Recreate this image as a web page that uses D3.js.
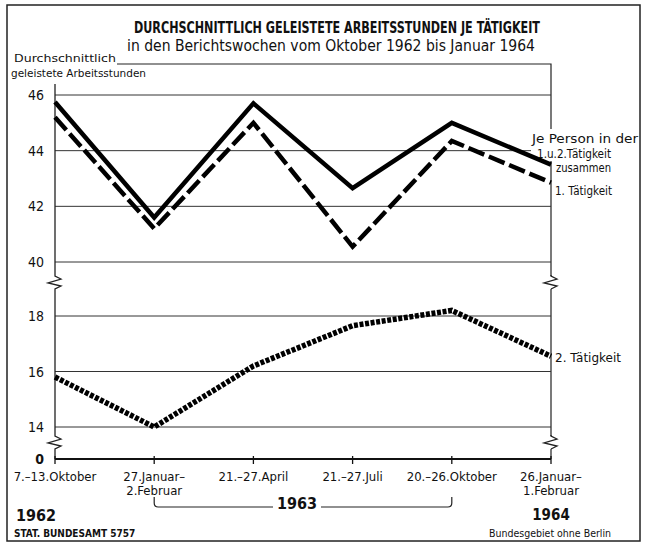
<!DOCTYPE html>
<html>
<head>
<meta charset="utf-8">
<script src="https://cdn.jsdelivr.net/npm/d3@7"></script>
<style>
  body { margin: 0; background: #fff; }
  text { font-family: "DejaVu Sans Condensed", "DejaVu Sans", sans-serif; font-stretch: condensed; fill: #111; }
</style>
</head>
<body>
<div id="chart"></div>
<script>
// data
var periods = ["7.–13.Oktober", "27.Januar–2.Februar", "21.–27.April", "21.–27.Juli", "20.–26.Oktober", "26.Januar–1.Februar"];
var periodLines = [["7.–13.Oktober"], ["27.Januar–", "2.Februar"], ["21.–27.April"], ["21.–27.Juli"], ["20.–26.Oktober"], ["26.Januar–", "1.Februar"]];
var zusammen = [45.75, 41.6, 45.7, 42.65, 45.0, 43.5];     // je Person in der 1.u.2. Tätigkeit
var ersteTaetigkeit = [45.2, 41.2, 45.0, 40.55, 44.35, 42.85];
var zweiteTaetigkeit = [15.8, 14.0, 16.2, 17.65, 18.2, 16.55];
var upperTicks = [46, 44, 42, 40];
var lowerTicks = [18, 16, 14];

let width = 647;
let height = 546;

var svg = d3.select("#chart")
    .append("svg")
    .attr("width", width)
    .attr("height", height);

//scales
var x = d3.scalePoint().domain(periods).range([55, 551]);
var yUp = d3.scaleLinear().domain([40, 46]).range([262, 95]);
var yLow = d3.scaleLinear().domain([14, 18]).range([427, 316]);
var zeroY = 459;

//outer border
svg.append("rect")
    .attr("x", 7).attr("y", 5)
    .attr("width", 633).attr("height", 536)
    .attr("fill", "none")
    .attr("stroke", "#222")
    .attr("stroke-width", 1.5);

//title
svg.append("text")
    .attr("x", 337).attr("y", 33)
    .attr("text-anchor", "middle")
    .attr("font-size", 15).attr("font-weight", "bold")
    .attr("textLength", 406).attr("lengthAdjust", "spacingAndGlyphs")
    .text("DURCHSCHNITTLICH GELEISTETE ARBEITSSTUNDEN JE TÄTIGKEIT");

svg.append("text")
    .attr("x", 331).attr("y", 51)
    .attr("text-anchor", "middle")
    .attr("font-size", 15)
    .attr("textLength", 408).attr("lengthAdjust", "spacingAndGlyphs")
    .text("in den Berichtswochen vom Oktober 1962 bis Januar 1964");

//y axis title
svg.append("text")
    .attr("x", 14).attr("y", 62)
    .attr("font-size", 11)
    .attr("textLength", 102).attr("lengthAdjust", "spacingAndGlyphs")
    .text("Durchschnittlich");
svg.append("text")
    .attr("x", 11).attr("y", 77)
    .attr("font-size", 11)
    .attr("textLength", 135).attr("lengthAdjust", "spacingAndGlyphs")
    .text("geleistete Arbeitsstunden");

//frame: top line + right side
svg.append("path")
    .attr("d", "M117,64 H551 V" + zeroY)
    .attr("fill", "none")
    .attr("stroke", "#222")
    .attr("stroke-width", 1.2);

//grid lines
var grid = svg.append("g").attr("stroke", "#333").attr("stroke-width", 1);
upperTicks.forEach(t => {
    grid.append("line").attr("x1", 55).attr("x2", 551).attr("y1", yUp(t)).attr("y2", yUp(t));
});
lowerTicks.forEach(t => {
    grid.append("line").attr("x1", 55).attr("x2", 551).attr("y1", yLow(t)).attr("y2", yLow(t));
});

//white patch behind the right-hand labels (covers frame, data lines are drawn later on top)
svg.append("rect").attr("x", 531).attr("y", 129).attr("width", 108).attr("height", 32).attr("fill", "#fff");

//tick labels
upperTicks.forEach(t => {
    svg.append("text").attr("x", 44).attr("y", yUp(t) + 5)
        .attr("text-anchor", "end").attr("font-size", 14).text(t);
});
lowerTicks.forEach(t => {
    svg.append("text").attr("x", 44).attr("y", yLow(t) + 5)
        .attr("text-anchor", "end").attr("font-size", 14).text(t);
});
svg.append("text").attr("x", 44).attr("y", zeroY + 5)
    .attr("text-anchor", "end").attr("font-size", 14).attr("font-weight", "bold").text("0");

//zigzag break on a vertical line
var zig = function(xc, yc) {
    return "L" + xc + "," + (yc - 6) +
        " L" + (xc + 6) + "," + (yc - 3) +
        " L" + (xc - 7) + "," + (yc + 1) +
        " L" + (xc + 6) + "," + (yc + 4) +
        " L" + xc + "," + (yc + 7);
};
svg.append("path")
    .attr("d", "M55,84 " + zig(55, 282) + " " + zig(55, 442) + " L55," + zeroY)
    .attr("fill", "none").attr("stroke", "#222").attr("stroke-width", 1.3);
//right side zigzags (drawn on white over the frame line)
[282, 442].forEach(yc => {
    svg.append("rect").attr("x", 549).attr("y", yc - 6).attr("width", 4).attr("height", 13).attr("fill", "#fff");
    svg.append("path")
        .attr("d", "M551," + (yc - 7) + " " + zig(551, yc))
        .attr("fill", "none").attr("stroke", "#222").attr("stroke-width", 1.3);
});

//zero baseline and ticks
svg.append("line")
    .attr("x1", 55).attr("x2", 551).attr("y1", zeroY).attr("y2", zeroY)
    .attr("stroke", "#111").attr("stroke-width", 2.2);
periods.forEach(p => {
    svg.append("line")
        .attr("x1", x(p)).attr("x2", x(p)).attr("y1", zeroY - 3).attr("y2", zeroY + 5)
        .attr("stroke", "#111").attr("stroke-width", 1.3);
});

//x labels
periods.forEach((p, i) => {
    var t = svg.append("text")
        .attr("x", x(p)).attr("y", 481)
        .attr("text-anchor", "middle")
        .attr("font-size", 13);
    periodLines[i].forEach((ln, j) => {
        t.append("tspan").attr("x", x(p)).attr("dy", j == 0 ? 0 : 14).text(ln);
    });
});

//years
svg.append("text").attr("x", 36).attr("y", 521).attr("text-anchor", "middle")
    .attr("font-size", 16).attr("font-weight", "bold").text("1962");
svg.append("text").attr("x", 551).attr("y", 520).attr("text-anchor", "middle")
    .attr("font-size", 15).attr("font-weight", "bold").text("1964");
svg.append("text").attr("x", 297).attr("y", 509).attr("text-anchor", "middle")
    .attr("font-size", 16).attr("font-weight", "bold").text("1963");
//bracket for 1963
var bx1 = x(periods[1]), bx2 = x(periods[4]);
svg.append("path")
    .attr("d", "M" + bx1 + ",497 V503 Q" + bx1 + ",507 " + (bx1 + 4) + ",507 H273 M321,507 H" + (bx2 - 4) + " Q" + bx2 + ",507 " + bx2 + ",503 V497")
    .attr("fill", "none").attr("stroke", "#222").attr("stroke-width", 1.2);

//footer
svg.append("text").attr("x", 14).attr("y", 537)
    .attr("font-size", 10).attr("font-weight", "bold")
    .text("STAT. BUNDESAMT 5757");
svg.append("text").attr("x", 550).attr("y", 537).attr("text-anchor", "middle")
    .attr("font-size", 10.5)
    .text("Bundesgebiet ohne Berlin");

//lines
var lineUp = d3.line().x((d, i) => x(periods[i])).y(d => yUp(d));
var lineLow = d3.line().x((d, i) => x(periods[i])).y(d => yLow(d));

svg.append("path").datum(ersteTaetigkeit)
    .attr("d", lineUp)
    .attr("fill", "none").attr("stroke", "#000")
    .attr("stroke-width", 4.5)
    .attr("stroke-dasharray", "17,5");

svg.append("path").datum(zusammen)
    .attr("d", lineUp)
    .attr("fill", "none").attr("stroke", "#000")
    .attr("stroke-width", 4.5)
    .attr("stroke-linejoin", "miter");

svg.append("path").datum(zweiteTaetigkeit)
    .attr("d", lineLow)
    .attr("fill", "none").attr("stroke", "#000")
    .attr("stroke-width", 5.5)
    .attr("stroke-dasharray", "4,1.6");

//right-hand series labels
svg.append("text").attr("x", 532).attr("y", 143).attr("font-size", 13)
    .attr("textLength", 106).attr("lengthAdjust", "spacingAndGlyphs").text("Je Person in der");
svg.append("text").attr("x", 537).attr("y", 158).attr("font-size", 12.5)
    .attr("textLength", 74).attr("lengthAdjust", "spacingAndGlyphs").text("1.u.2.Tätigkeit");
svg.append("text").attr("x", 556).attr("y", 172).attr("font-size", 12.5)
    .attr("textLength", 55).attr("lengthAdjust", "spacingAndGlyphs").text("zusammen");
svg.append("text").attr("x", 555).attr("y", 195).attr("font-size", 13)
    .attr("textLength", 57).attr("lengthAdjust", "spacingAndGlyphs").text("1. Tätigkeit");
svg.append("text").attr("x", 555).attr("y", 362).attr("font-size", 13)
    .attr("textLength", 66).attr("lengthAdjust", "spacingAndGlyphs").text("2. Tätigkeit");
</script>
</body>
</html>
